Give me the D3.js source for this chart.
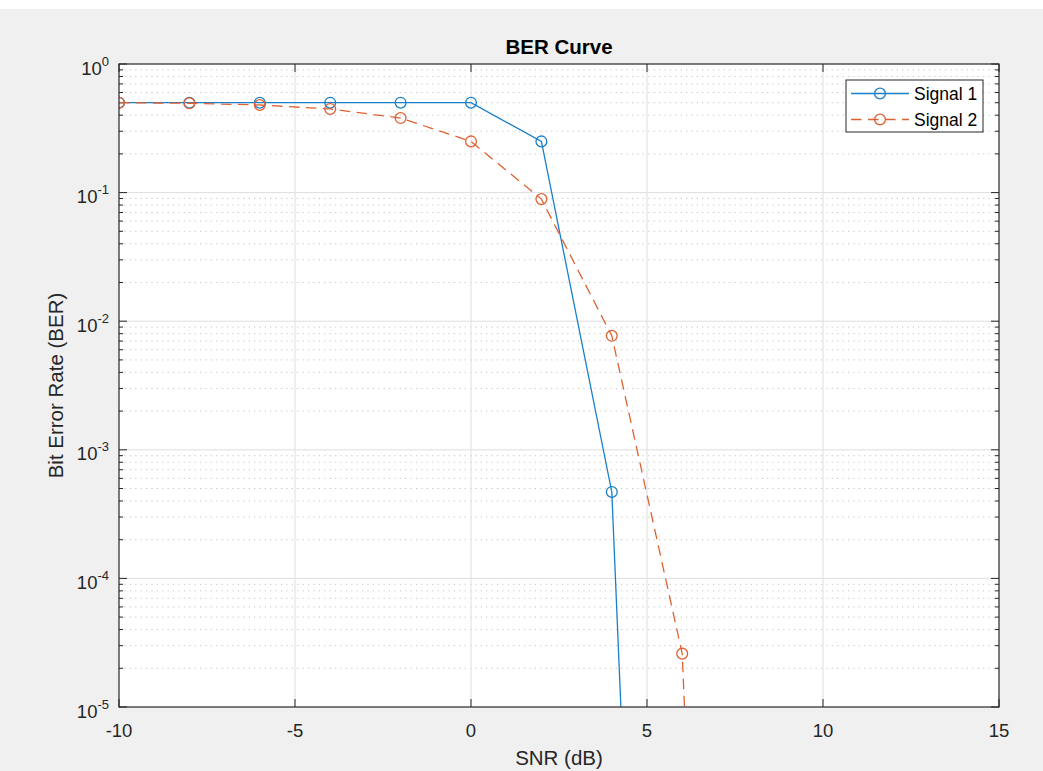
<!DOCTYPE html>
<html>
<head>
<meta charset="utf-8">
<script src="https://cdn.jsdelivr.net/npm/d3@7"></script>
<style>
  html, body { margin: 0; padding: 0; background: #f0f0f0; }
  svg { display: block; font-family: "Liberation Sans", Arial, Helvetica, sans-serif; }
</style>
</head>
<body>
<div id="chart"></div>
<script>
// data
var snr = [-10, -8, -6, -4, -2, 0, 2, 4, 6, 8];
var signal1 = [0.5, 0.5, 0.5, 0.5, 0.5, 0.5, 0.25, 4.7e-4, 5e-17, 0];
var signal2 = [0.5, 0.495, 0.48, 0.447, 0.38, 0.25, 0.089, 0.0077, 2.6e-5, 4e-18];
var seriesNames = ['Signal 1', 'Signal 2'];
var xTicks = [-10, -5, 0, 5, 10, 15];
var yExponents = [0, -1, -2, -3, -4, -5];

var svgWidth = 1043, svgHeight = 771;
var margin = {top: 64, left: 119, right: 44, bottom: 64};
var w = svgWidth - margin.left - margin.right;
var h = svgHeight - margin.top - margin.bottom;
var axisColor = '#262626';
var colors = ['#1a7fc9', '#df6132'];

var svg = d3.select('#chart').append('svg')
  .attr('width', svgWidth).attr('height', svgHeight);

svg.append('rect').attr('width', svgWidth).attr('height', svgHeight).attr('fill', '#f0f0f0');
svg.append('rect').attr('width', svgWidth).attr('height', 9).attr('fill', '#ffffff');

var x = d3.scaleLinear().domain([-10, 15]).range([0, w]);
var y = d3.scaleLog().domain([1e-5, 1]).range([h, 0]);

var g = svg.append('g').attr('transform', 'translate(' + margin.left + ',' + margin.top + ')');

g.append('rect').attr('width', w).attr('height', h).attr('fill', '#ffffff');

// minor y values 2..9 per decade
var minorY = [];
yExponents.slice(1).forEach(function(e) {
  for (var k = 2; k <= 9; k++) minorY.push(k * Math.pow(10, e));
});

// grid
g.selectAll('.minor-grid').data(minorY).enter().append('line')
  .attr('x1', 0).attr('x2', w)
  .attr('y1', function(d) { return y(d); }).attr('y2', function(d) { return y(d); })
  .attr('stroke', '#c4c4c4').attr('stroke-width', 1).attr('stroke-dasharray', '1.2,4.2');

g.selectAll('.ygrid').data(yExponents.slice(1, -1)).enter().append('line')
  .attr('x1', 0).attr('x2', w)
  .attr('y1', function(d) { return y(Math.pow(10, d)); }).attr('y2', function(d) { return y(Math.pow(10, d)); })
  .attr('stroke', '#dedede').attr('stroke-width', 1);

g.selectAll('.xgrid').data(xTicks.slice(1, -1)).enter().append('line')
  .attr('y1', 0).attr('y2', h)
  .attr('x1', function(d) { return x(d); }).attr('x2', function(d) { return x(d); })
  .attr('stroke', '#dedede').attr('stroke-width', 1);

// ticks on all four sides, pointing inward
var tickG = g.append('g').attr('stroke', axisColor).attr('stroke-width', 1);
xTicks.forEach(function(t) {
  tickG.append('line').attr('x1', x(t)).attr('x2', x(t)).attr('y1', h).attr('y2', h - 8);
  tickG.append('line').attr('x1', x(t)).attr('x2', x(t)).attr('y1', 0).attr('y2', 8);
});
yExponents.forEach(function(e) {
  var yy = y(Math.pow(10, e));
  tickG.append('line').attr('x1', 0).attr('x2', 8).attr('y1', yy).attr('y2', yy);
  tickG.append('line').attr('x1', w).attr('x2', w - 8).attr('y1', yy).attr('y2', yy);
});
minorY.forEach(function(d) {
  var yy = y(d);
  tickG.append('line').attr('x1', 0).attr('x2', 4).attr('y1', yy).attr('y2', yy);
  tickG.append('line').attr('x1', w).attr('x2', w - 4).attr('y1', yy).attr('y2', yy);
});

// data lines
g.append('clipPath').attr('id', 'clip').append('rect').attr('width', w).attr('height', h);
var plot = g.append('g').attr('clip-path', 'url(#clip)');

var line = d3.line()
  .defined(function(d) { return d[1] > 0; })
  .x(function(d) { return x(d[0]); })
  .y(function(d) { return y(d[1]); });

[signal1, signal2].forEach(function(vals, i) {
  var pts = snr.map(function(s, j) { return [s, vals[j]]; });
  plot.append('path').datum(pts)
    .attr('d', line)
    .attr('fill', 'none')
    .attr('stroke', colors[i])
    .attr('stroke-width', 1.3)
    .attr('stroke-dasharray', i === 1 ? '10.5,6.5' : null);
  plot.selectAll('.m' + i).data(pts.filter(function(d) { return d[1] >= 1e-5; })).enter().append('circle')
    .attr('cx', function(d) { return x(d[0]); })
    .attr('cy', function(d) { return y(d[1]); })
    .attr('r', 5.4)
    .attr('fill', 'none')
    .attr('stroke', colors[i])
    .attr('stroke-width', 1.3);
});

// box
g.append('rect').attr('width', w).attr('height', h)
  .attr('fill', 'none').attr('stroke', axisColor).attr('stroke-width', 1.2);

// tick labels
g.selectAll('.xlab').data(xTicks).enter().append('text')
  .attr('x', function(d) { return x(d); })
  .attr('y', h + 30)
  .attr('text-anchor', 'middle')
  .attr('font-size', 18.5)
  .attr('fill', axisColor)
  .text(function(d) { return d; });

var ylab = g.selectAll('.ylab').data(yExponents).enter().append('text')
  .attr('x', -10)
  .attr('y', function(d) { return y(Math.pow(10, d)) + 10.5; })
  .attr('text-anchor', 'end')
  .attr('font-size', 18.5)
  .attr('fill', axisColor);
ylab.append('tspan').text('10');
ylab.append('tspan').attr('dy', -9).attr('font-size', 13).text(function(d) { return d; });

// labels
svg.append('text')
  .attr('x', margin.left + w / 2).attr('y', 54)
  .attr('text-anchor', 'middle')
  .attr('font-size', 20.5).attr('font-weight', 'bold')
  .attr('fill', '#000').text('BER Curve');

svg.append('text')
  .attr('x', margin.left + w / 2).attr('y', 765)
  .attr('text-anchor', 'middle')
  .attr('font-size', 20.5)
  .attr('fill', axisColor).text('SNR (dB)');

svg.append('text')
  .attr('transform', 'translate(62.5,' + (margin.top + h / 2) + ') rotate(-90)')
  .attr('text-anchor', 'middle')
  .attr('font-size', 20.5)
  .attr('fill', axisColor).text('Bit Error Rate (BER)');

// legend
var lg = svg.append('g').attr('transform', 'translate(846,80)');
lg.append('rect').attr('width', 137).attr('height', 52)
  .attr('fill', '#ffffff').attr('stroke', axisColor).attr('stroke-width', 1);
seriesNames.forEach(function(name, i) {
  var ry = 13.5 + i * 26;
  lg.append('line').attr('x1', 5).attr('x2', 63).attr('y1', ry).attr('y2', ry)
    .attr('stroke', colors[i]).attr('stroke-width', 1.3)
    .attr('stroke-dasharray', i === 1 ? '10.5,6.5' : null);
  lg.append('circle').attr('cx', 34).attr('cy', ry).attr('r', 5.4)
    .attr('fill', 'none').attr('stroke', colors[i]).attr('stroke-width', 1.3);
  lg.append('text').attr('x', 68).attr('y', ry + 6.3)
    .attr('font-size', 17.5).attr('fill', '#000').text(name);
});
</script>
</body>
</html>
